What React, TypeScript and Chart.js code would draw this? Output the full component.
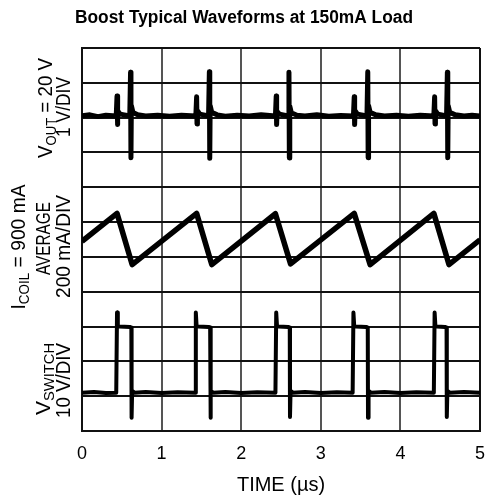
import React, { useEffect, useRef } from "react";
import { Chart, registerables } from "chart.js";

Chart.register(...registerables);

const TITLE = "Boost Typical Waveforms at 150mA Load";
const X_TITLE = "TIME (µs)";
const X_TICKS = [0, 1, 2, 3, 4, 5];

// Output voltage trace (in screen divisions from bottom of the 11-division grid)
const VOUT_TIME = [
  0, 0.1, 0.2, 0.3, 0.43, 0.44, 0.445, 0.45, 0.48, 0.6, 0.61, 0.615, 0.62, 0.64, 0.7, 0.8, 0.95, 1.1, 1.25, 1.43,
  1.44, 1.445, 1.45, 1.48, 1.59, 1.6, 1.605, 1.61, 1.63, 1.7, 1.8, 1.95, 2.1, 2.25, 2.43,
  2.44, 2.445, 2.45, 2.48, 2.59, 2.6, 2.605, 2.61, 2.63, 2.7, 2.8, 2.95, 3.1, 3.25, 3.41,
  3.42, 3.425, 3.43, 3.46, 3.58, 3.59, 3.595, 3.6, 3.62, 3.69, 3.8, 3.95, 4.1, 4.25, 4.42,
  4.43, 4.435, 4.44, 4.47, 4.58, 4.59, 4.595, 4.6, 4.62, 4.69, 4.8, 4.9, 5,
];
const VOUT_DIV = [
  9.05, 9.08, 9.03, 9.07, 9.05, 9.62, 8.8, 9.2, 9.1, 9.05, 10.3, 7.85, 9.35, 9.15, 9.08, 9.05, 9.07, 9.04, 9.07, 9.05,
  9.6, 8.82, 9.2, 9.1, 9.05, 10.32, 7.83, 9.35, 9.15, 9.08, 9.04, 9.07, 9.05, 9.08, 9.05,
  9.62, 8.8, 9.18, 9.1, 9.05, 10.3, 7.84, 9.33, 9.14, 9.07, 9.05, 9.08, 9.04, 9.06, 9.05,
  9.6, 8.8, 9.2, 9.1, 9.05, 10.32, 7.85, 9.35, 9.15, 9.08, 9.05, 9.07, 9.04, 9.07, 9.05,
  9.6, 8.82, 9.2, 9.1, 9.05, 10.3, 7.85, 9.35, 9.15, 9.08, 9.05, 9.07, 9.05,
];

// Coil current trace
const COIL_TIME = [0, 0.44, 0.63, 1.44, 1.63, 2.43, 2.62, 3.42, 3.62, 4.42, 4.61, 5];
const COIL_DIV = [5.45, 6.25, 4.78, 6.25, 4.78, 6.24, 4.8, 6.25, 4.78, 6.25, 4.78, 5.49];

// Switch node voltage trace
const SW_TIME = [
  0, 0.15, 0.3, 0.43, 0.44, 0.45, 0.47, 0.6, 0.62, 0.623, 0.63, 0.66, 0.8, 1.0, 1.2, 1.42,
  1.43, 1.44, 1.46, 1.59, 1.61, 1.613, 1.62, 1.65, 1.8, 2.0, 2.2, 2.43,
  2.44, 2.45, 2.47, 2.59, 2.61, 2.613, 2.62, 2.65, 2.8, 3.0, 3.2, 3.4,
  3.41, 3.42, 3.44, 3.57, 3.59, 3.593, 3.6, 3.63, 3.8, 4.0, 4.2, 4.42,
  4.43, 4.44, 4.46, 4.56, 4.58, 4.583, 4.59, 4.62, 4.8, 5,
];
const SW_DIV = [
  1.1, 1.12, 1.09, 1.1, 3.4, 3.0, 3.0, 2.99, 2.97, 0.38, 1.15, 1.1, 1.12, 1.09, 1.11, 1.1,
  3.4, 3.0, 3.0, 2.99, 2.97, 0.38, 1.15, 1.1, 1.12, 1.09, 1.11, 1.1,
  3.4, 3.0, 3.0, 2.99, 2.97, 0.4, 1.15, 1.1, 1.12, 1.09, 1.11, 1.1,
  3.4, 3.0, 3.0, 2.99, 2.97, 0.38, 1.15, 1.1, 1.12, 1.09, 1.11, 1.1,
  3.4, 3.0, 3.0, 2.99, 2.97, 0.4, 1.15, 1.1, 1.12, 1.1,
];

type Part = { t: string; sub?: boolean };
const LABEL_VOUT_1: Part[] = [{ t: "V" }, { t: "OUT", sub: true }, { t: " = 20 V" }];
const LABEL_VOUT_2: Part[] = [{ t: "1 V/DIV" }];
const LABEL_COIL_1: Part[] = [{ t: "I" }, { t: "COIL", sub: true }, { t: " = 900 mA" }];
const LABEL_COIL_2: Part[] = [{ t: "AVERAGE" }];
const LABEL_COIL_3: Part[] = [{ t: "200 mA/DIV" }];
const LABEL_SW_1: Part[] = [{ t: "V" }, { t: "SWITCH", sub: true }];
const LABEL_SW_2: Part[] = [{ t: "10 V/DIV" }];

const FONT = '"Liberation Sans", Arial, Helvetica, sans-serif';

function toPoints(xs: number[], ys: number[]) {
  return xs.map((x, i) => ({ x, y: ys[i] }));
}

// Draw a rotated label line; baseX = screen x of the baseline, cy = centre, len = run length
function drawRotated(ctx: CanvasRenderingContext2D, parts: Part[], baseX: number, cy: number, len: number) {
  const main = 15;
  const sub = 10.5;
  const capStretch = 1.38;
  ctx.save();
  let total = 0;
  const widths = parts.map((p) => {
    ctx.font = `${p.sub ? sub : main}px ${FONT}`;
    const w = ctx.measureText(p.t).width;
    total += w;
    return w;
  });
  const lenStretch = len / total;
  ctx.translate(baseX, cy);
  ctx.rotate(-Math.PI / 2);
  ctx.scale(lenStretch, capStretch);
  ctx.fillStyle = "#000";
  ctx.textBaseline = "alphabetic";
  ctx.textAlign = "left";
  let x = -total / 2;
  parts.forEach((p, i) => {
    ctx.font = `${p.sub ? sub : main}px ${FONT}`;
    ctx.fillText(p.t, x, p.sub ? 3.2 : 0);
    x += widths[i];
  });
  ctx.restore();
}

const textPlugin = {
  id: "scopeText",
  afterDraw(chart: any) {
    const ctx: CanvasRenderingContext2D = chart.ctx;
    const area = chart.chartArea;
    ctx.save();
    ctx.fillStyle = "#000";
    ctx.textAlign = "center";
    ctx.textBaseline = "middle";
    ctx.font = `bold 18px ${FONT}`;
    const tw = ctx.measureText(TITLE).width;
    ctx.save();
    ctx.translate(244, 18);
    ctx.scale(338 / tw, 1);
    ctx.fillText(TITLE, 0, 0);
    ctx.restore();
    ctx.font = `20px ${FONT}`;
    ctx.fillText(X_TITLE, (area.left + area.right) / 2, 485);
    ctx.restore();

    drawRotated(ctx, LABEL_VOUT_1, 52, 108, 100);
    drawRotated(ctx, LABEL_VOUT_2, 70, 107, 60);
    drawRotated(ctx, LABEL_COIL_1, 25, 247, 125);
    drawRotated(ctx, LABEL_COIL_2, 50, 238.5, 73);
    drawRotated(ctx, LABEL_COIL_3, 70, 246.5, 103);
    drawRotated(ctx, LABEL_SW_1, 50, 379, 72);
    drawRotated(ctx, LABEL_SW_2, 70, 380.5, 75);
  },
};

export default function App() {
  const ref = useRef<HTMLCanvasElement>(null);
  useEffect(() => {
    document.body.style.margin = "0";
    const canvas = ref.current!;
    const lineDs = (data: any[], width: number) => ({
      data,
      showLine: true,
      borderColor: "#000",
      backgroundColor: "#000",
      borderWidth: width,
      pointRadius: 0,
      tension: 0,
      borderJoinStyle: "round" as const,
      borderCapStyle: "butt" as const,
    });
    const chart = new Chart(canvas, {
      type: "scatter",
      data: {
        datasets: [
          lineDs(toPoints(VOUT_TIME, VOUT_DIV), 5),
          lineDs(toPoints(COIL_TIME, COIL_DIV), 5.5),
          lineDs(toPoints(SW_TIME, SW_DIV), 4),
        ],
      },
      options: {
        responsive: false,
        animation: false,
        layout: { padding: { top: 48, right: 10, left: 0, bottom: 0 } },
        plugins: { legend: { display: false }, tooltip: { enabled: false }, title: { display: false } },
        scales: {
          x: {
            type: "linear",
            min: 0,
            max: 5,
            afterFit: (s: any) => {
              s.height = 69;
              s.paddingLeft = 0;
              s.paddingRight = 0;
            },
            afterBuildTicks: (s: any) => {
              s.ticks = X_TICKS.map((v) => ({ value: v }));
            },
            ticks: {
              color: "#000",
              font: { family: FONT, size: 18 },
              padding: 12,
              maxRotation: 0,
              callback: (v: any) => String(v),
            },
            grid: {
              drawTicks: false,
              lineWidth: 2,
              color: (c: any) => (c.tick && (c.tick.value === 0 || c.tick.value === 5) ? "#111" : "#555"),
            },
            border: { display: true, color: "#111", width: 2 },
          },
          y: {
            type: "linear",
            min: 0,
            max: 11,
            afterFit: (s: any) => {
              s.width = 82;
            },
            ticks: { display: false, stepSize: 1 },
            grid: { drawTicks: false, lineWidth: 2, color: "#111" },
            border: { display: true, color: "#111", width: 2 },
          },
        },
      },
      plugins: [textPlugin],
    });
    return () => chart.destroy();
  }, []);
  return <canvas ref={ref} width={490} height={500} style={{ display: "block" }} />;
}
